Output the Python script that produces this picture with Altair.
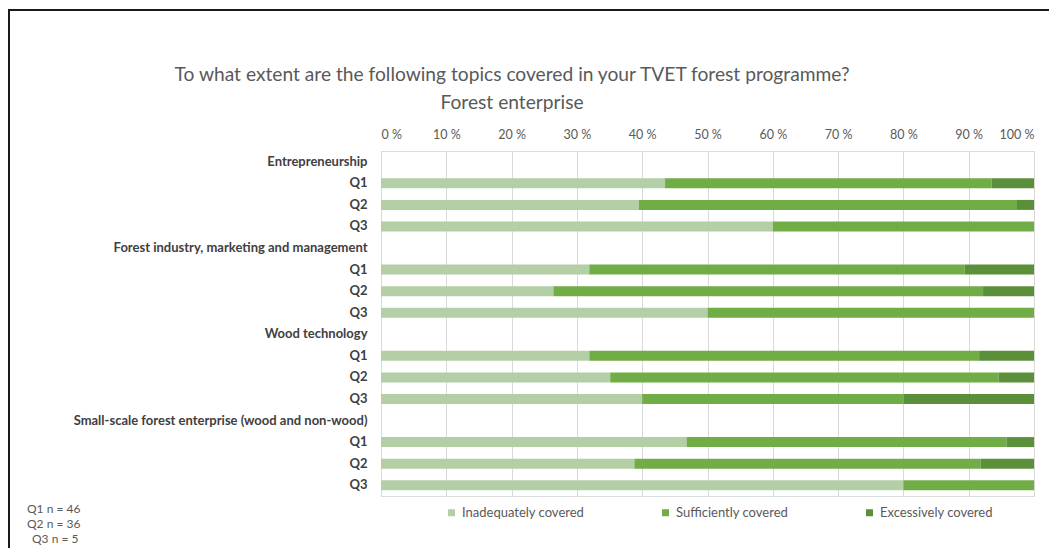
import altair as alt
import pandas as pd

# ---- data ----
topics = [
    "Entrepreneurship",
    "Forest industry, marketing and management",
    "Wood technology",
    "Small-scale forest enterprise (wood and non-wood)",
]
questions = ["Q1", "Q2", "Q3"]
categories = ["Inadequately covered", "Sufficiently covered", "Excessively covered"]
colors = ["#b4cfa6", "#70ad47", "#5b8f3a"]

# one value per topic x question (Q1, Q2, Q3 of each topic in order), in %
inadequate = [43.5, 39.5, 60.0, 31.9, 26.4, 50.0, 31.9, 35.1, 40.0, 46.8, 38.8, 80.0]
sufficient = [50.0, 57.9, 40.0, 57.5, 65.8, 50.0, 59.7, 59.5, 40.0, 49.0, 53.0, 20.0]
excessive = [6.5, 2.6, 0.0, 10.6, 7.8, 0.0, 8.4, 5.4, 20.0, 4.2, 8.2, 0.0]

title_lines = [
    "To what extent are the following topics covered in your TVET forest programme?",
    "Forest enterprise",
]
notes = ["Q1 n = 46", "Q2 n = 36", " Q3 n = 5"]
x_ticks = [i / 10 for i in range(11)]

# ---- build table ----
row_domain = []
records = []
k = 0
for t in topics:
    row_domain.append(t)
    for q in questions:
        rid = t + "|" + q
        row_domain.append(rid)
        for ci, (cat, vals) in enumerate(zip(categories, [inadequate, sufficient, excessive])):
            records.append({"row": rid, "category": cat, "value": vals[k], "idx": ci})
        k += 1
df = pd.DataFrame(records)

FONT = "Lato"
GREY = "#595959"

bars = alt.Chart(df).mark_bar(size=10).encode(
    x=alt.X(
        "value:Q",
        stack="normalize",
        scale=alt.Scale(domain=[0, 1], nice=False),
        axis=alt.Axis(
            orient="top",
            title=None,
            values=x_ticks,
            labelExpr="format(round(datum.value*100), 'd') + ' %'",
            grid=True,
            gridColor="#d9d9d9",
            ticks=False,
            domain=False,
            labelFont=FONT,
            labelFontSize=12.5,
            labelColor=GREY,
            labelPadding=10,
        ),
    ),
    y=alt.Y(
        "row:N",
        sort=row_domain,
        scale=alt.Scale(domain=row_domain, paddingInner=0, paddingOuter=0),
        axis=alt.Axis(
            title=None,
            labelExpr="indexof(datum.label, '|') >= 0 ? split(datum.label, '|')[1] : datum.label",
            labelFont=FONT,
            labelFontSize=13,
            labelFontWeight="bold",
            labelColor="#404040",
            labelPadding=14,
            labelLimit=500,
            ticks=False,
            domain=True,
            domainColor="#d9d9d9",
            grid=False,
        ),
    ),
    color=alt.Color(
        "category:N",
        scale=alt.Scale(domain=categories, range=colors),
        legend=alt.Legend(
            orient="none",
            legendX=64,
            legendY=355,
            direction="horizontal",
            title=None,
            symbolType="square",
            symbolSize=49,
            symbolStrokeWidth=0,
            labelFont=FONT,
            labelFontSize=13,
            labelColor=GREY,
            columnPadding=74,
            labelOffset=4,
        ),
    ),
    order=alt.Order("idx:Q"),
)

layers = [bars]

# title lines
title_y = [-76, -48]
for line, yy in zip(title_lines, title_y):
    layers.append(
        alt.Chart(pd.DataFrame({"t": [line]})).mark_text(
            font=FONT, fontSize=19.2, color=GREY, align="center", baseline="middle"
        ).encode(text="t:N", x=alt.value(131), y=alt.value(yy))
    )

# sample-size notes
note_pos = [(-354, 358), (-354, 373), (-349, 388)]
for line, (xx, yy) in zip(notes, note_pos):
    layers.append(
        alt.Chart(pd.DataFrame({"t": [line]})).mark_text(
            font=FONT, fontSize=12, color=GREY, align="left", baseline="middle"
        ).encode(text="t:N", x=alt.value(xx), y=alt.value(yy))
    )

# frame (top and left border)
frame_df = pd.DataFrame({"d": [0]})
layers.append(
    alt.Chart(frame_df).mark_rule(color="#1a1a1a", strokeWidth=2).encode(
        x=alt.value(-373), x2=alt.value(700), y=alt.value(-141)
    )
)
layers.append(
    alt.Chart(frame_df).mark_rule(color="#1a1a1a", strokeWidth=2).encode(
        x=alt.value(-372), y=alt.value(-142), y2=alt.value(420)
    )
)

chart = alt.layer(*layers).properties(
    width=653,
    height=345,
    autosize=alt.AutoSizeParams(type="none"),
    padding={"left": 373, "top": 143, "right": 15, "bottom": 52},
).configure_view(stroke=None).configure(background="white")

chart.save("out.html", embed_options={"renderer": "svg", "actions": False})
